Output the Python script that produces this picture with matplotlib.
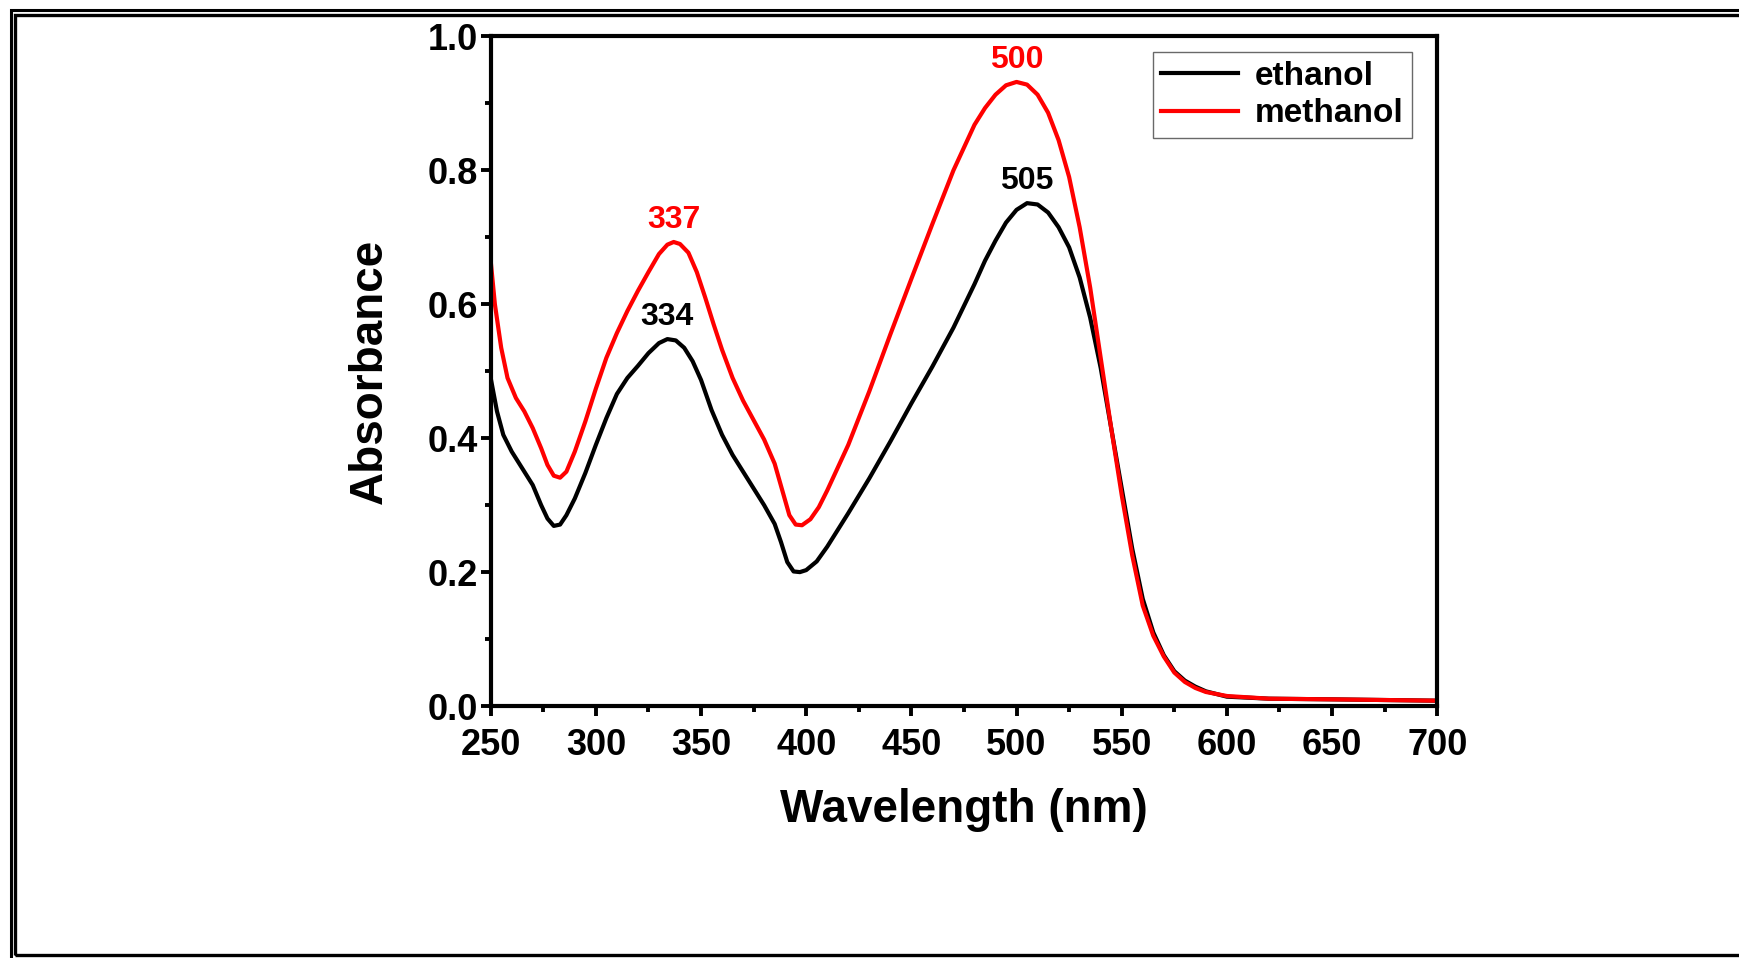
import numpy as np
import matplotlib.pyplot as plt
from matplotlib.patches import Rectangle
from matplotlib.ticker import MultipleLocator

plt.rcParams['font.family'] = ['Liberation Sans', 'DejaVu Sans']
plt.rcParams['font.weight'] = 'bold'

# UV-Vis absorbance readings (nm, absorbance)
wl_eth = [250, 253, 256, 260, 265, 270, 274, 277, 280, 283, 286, 290, 295, 300,
          305, 310, 315, 320, 325, 330, 334, 338, 342, 346, 350, 355, 360, 365,
          370, 375, 380, 385, 388, 391, 394, 397, 400, 405, 410, 420, 430, 440,
          450, 460, 470, 480, 485, 490, 495, 500, 505, 510, 515, 520, 525, 530,
          535, 540, 545, 550, 555, 560, 565, 570, 575, 580, 585, 590, 600, 620,
          650, 700]
abs_eth = [0.49, 0.44, 0.405, 0.38, 0.355, 0.33, 0.3, 0.28, 0.269, 0.271, 0.285,
           0.31, 0.348, 0.39, 0.43, 0.466, 0.49, 0.508, 0.527, 0.542, 0.548,
           0.546, 0.535, 0.515, 0.487, 0.442, 0.405, 0.375, 0.35, 0.325, 0.3,
           0.272, 0.245, 0.215, 0.201, 0.2, 0.203, 0.216, 0.238, 0.288, 0.34,
           0.395, 0.452, 0.507, 0.565, 0.63, 0.665, 0.695, 0.722, 0.741, 0.751,
           0.749, 0.737, 0.715, 0.685, 0.64, 0.58, 0.505, 0.415, 0.325, 0.235,
           0.16, 0.11, 0.076, 0.052, 0.038, 0.029, 0.022, 0.014, 0.011, 0.01,
           0.008]

wl_met = [250, 252, 255, 258, 262, 266, 270, 274, 277, 280, 283, 286, 290, 295,
          300, 305, 310, 315, 320, 325, 330, 334, 337, 340, 344, 348, 352, 356,
          360, 365, 370, 375, 380, 385, 389, 392, 395, 398, 402, 406, 410, 420,
          430, 440, 450, 460, 470, 480, 485, 490, 495, 500, 505, 510, 515, 520,
          525, 530, 535, 540, 545, 550, 555, 560, 565, 570, 575, 580, 585, 590,
          600, 620, 650, 700]
abs_met = [0.665, 0.6, 0.535, 0.49, 0.46, 0.44, 0.415, 0.385, 0.36, 0.344, 0.341,
           0.35, 0.38, 0.425, 0.474, 0.52, 0.557, 0.59, 0.62, 0.648, 0.675,
           0.689, 0.693, 0.69, 0.677, 0.648, 0.61, 0.57, 0.532, 0.49, 0.456,
           0.427, 0.398, 0.362, 0.318, 0.285, 0.271, 0.27, 0.279, 0.297, 0.322,
           0.39, 0.47, 0.555, 0.638, 0.72, 0.8, 0.868, 0.893, 0.913, 0.927,
           0.932, 0.928, 0.913, 0.886, 0.845, 0.79, 0.715, 0.625, 0.52, 0.415,
           0.315, 0.225, 0.15, 0.105, 0.074, 0.05, 0.036, 0.027, 0.021, 0.015,
           0.011, 0.01, 0.008]

# peak labels: (wavelength, absorbance, text, colour)
peaks = [(337, 0.693, '337', 'red'), (334, 0.548, '334', 'black'),
         (500, 0.932, '500', 'red'), (505, 0.751, '505', 'black')]

fig = plt.figure(figsize=(17.4, 9.58), dpi=100)
ax = fig.add_axes([0.282, 0.263, 0.544, 0.699])

ax.plot(wl_eth, abs_eth, color='black', lw=3.0, solid_joinstyle='round',
        label='ethanol')
ax.plot(wl_met, abs_met, color='red', lw=3.0, solid_joinstyle='round',
        label='methanol')

for x, y, txt, c in peaks:
    ax.annotate(txt, (x, y), textcoords='offset points', xytext=(0, 5),
                ha='center', va='bottom', color=c, fontsize=23, fontweight='bold')

ax.set_xlim(250, 700)
ax.set_ylim(0, 1.0)
ax.xaxis.set_major_locator(MultipleLocator(50))
ax.xaxis.set_minor_locator(MultipleLocator(25))
ax.yaxis.set_major_locator(MultipleLocator(0.2))
ax.yaxis.set_minor_locator(MultipleLocator(0.1))
ax.yaxis.set_major_formatter(plt.FormatStrFormatter('%.1f'))

for s in ax.spines.values():
    s.set_linewidth(3.0)
ax.tick_params(which='major', direction='out', length=7, width=2.8, labelsize=26)
ax.tick_params(which='minor', direction='out', length=4, width=2.8)
ax.tick_params(axis='x', which='major', pad=9)
ax.tick_params(axis='y', which='major', pad=2)

ax.set_xlabel('Wavelength (nm)', fontsize=33, fontweight='bold', labelpad=18)
ax.set_ylabel('Absorbance', fontsize=33, fontweight='bold', labelpad=26)

leg = ax.legend(loc='upper right', bbox_to_anchor=(0.973, 0.976), borderaxespad=0,
                fontsize=24, handlelength=2.3, frameon=True, fancybox=False,
                borderpad=0.25, labelspacing=0.2, handletextpad=0.5)
leg.get_frame().set_edgecolor('#444444')
leg.get_frame().set_linewidth(1.0)
for t in leg.get_texts():
    t.set_fontweight('bold')

# double frame around the figure
W, H = 1740, 958
fig.patches.append(Rectangle((11 / W, -0.05), 1.1, (H + 48 - 10) / H,
                             transform=fig.transFigure, fill=False,
                             edgecolor='black', lw=2.2))
fig.patches.append(Rectangle((15 / W, (H - 955) / H), 1.1, (955 - 14.5) / H,
                             transform=fig.transFigure, fill=False,
                             edgecolor='black', lw=2.4))

fig.savefig('out.png', dpi=100)
